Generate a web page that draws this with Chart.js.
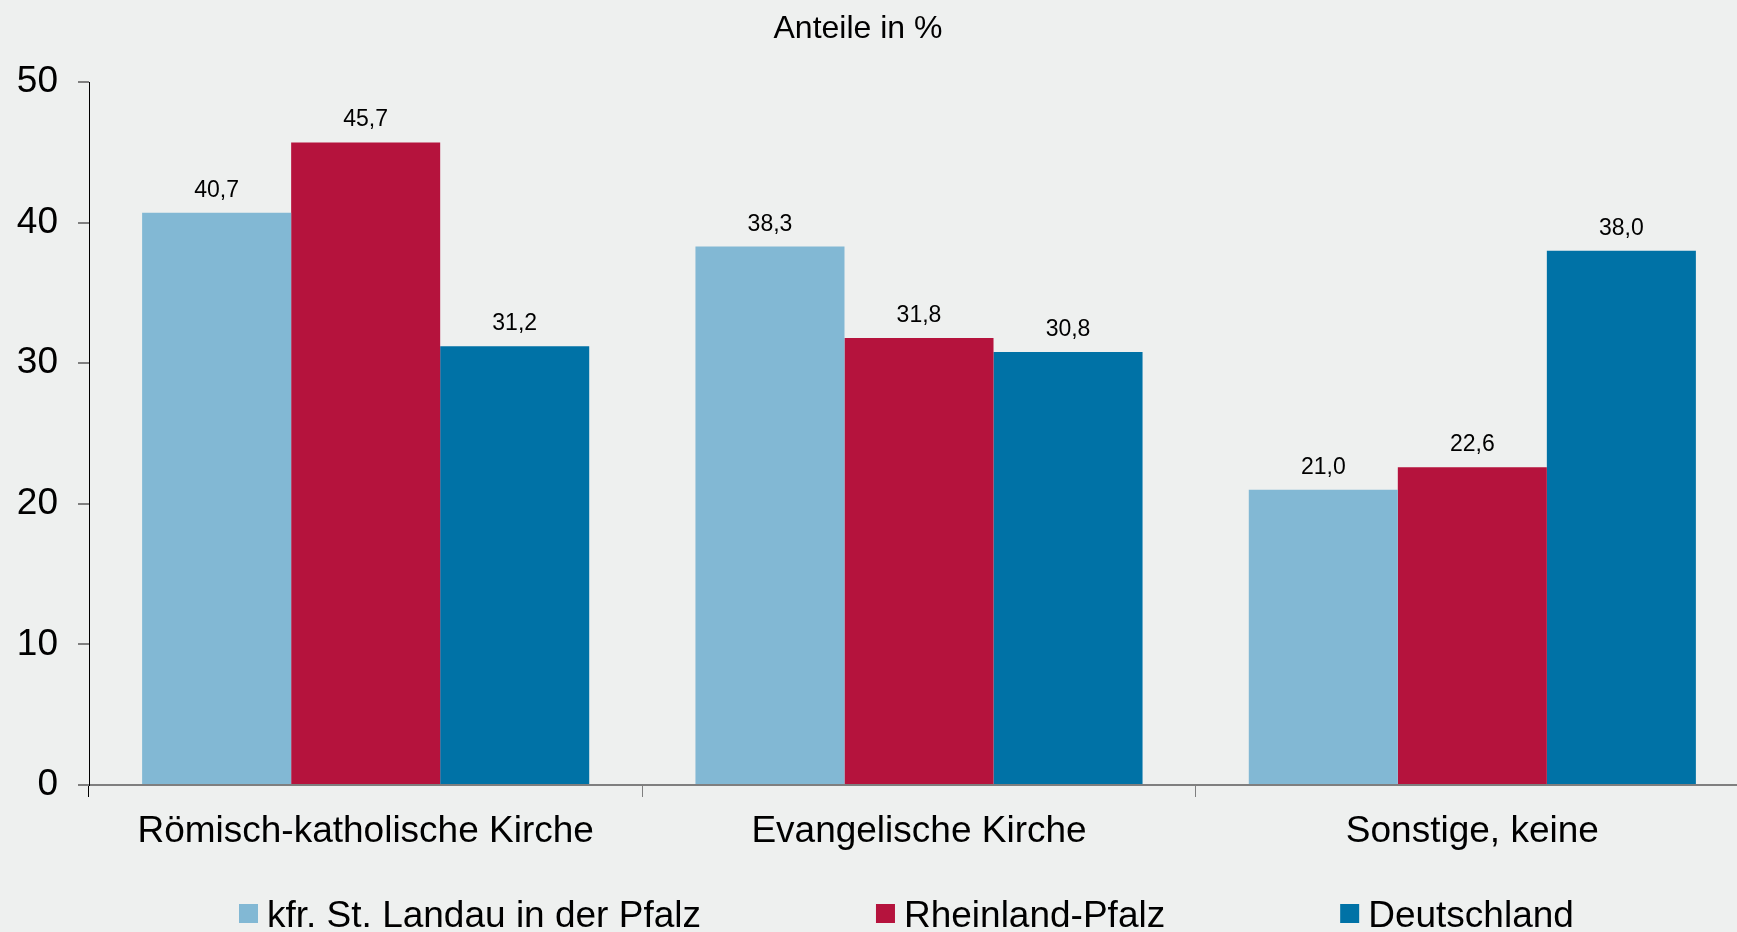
<!DOCTYPE html>
<html lang="de">
<head>
<meta charset="utf-8">
<title>Anteile in %</title>
<script src="https://cdn.jsdelivr.net/npm/chart.js@4.4.1/dist/chart.umd.min.js"></script>
<style>
  html, body { margin: 0; padding: 0; overflow: hidden; background: #eef0ef; }
  #chart { display: block; }
</style>
</head>
<body>
<canvas id="chart" width="1749" height="932"></canvas>
<script>
const categories = ['Römisch-katholische Kirche', 'Evangelische Kirche', 'Sonstige, keine'];
const seriesNames = ['kfr. St. Landau in der Pfalz', 'Rheinland-Pfalz', 'Deutschland'];
const landauValues = [40.7, 38.3, 21.0];
const rlpValues = [45.7, 31.8, 22.6];
const deValues = [31.2, 30.8, 38.0];
const yMin = 0;
const yMax = 50;
const yStep = 10;
const titleText = 'Anteile in %';

const colors = ['#82b8d4', '#b5133d', '#0072a6'];
const FONT = '"Liberation Sans", Arial, sans-serif';

// numbers above the bars
const valueLabels = {
  id: 'valueLabels',
  afterDatasetsDraw(chart) {
    const ctx = chart.ctx;
    ctx.save();
    ctx.font = '23px ' + FONT;
    ctx.fillStyle = '#000';
    ctx.textAlign = 'center';
    ctx.textBaseline = 'alphabetic';
    chart.data.datasets.forEach((ds, i) => {
      chart.getDatasetMeta(i).data.forEach((bar, j) => {
        ctx.fillText(ds.data[j].toFixed(1).replace('.', ','), bar.x, bar.y - 16);
      });
    });
    ctx.restore();
  }
};

// title on top, legend at the bottom
const titleAndLegend = {
  id: 'titleAndLegend',
  afterDraw(chart) {
    const ctx = chart.ctx;
    ctx.save();
    ctx.fillStyle = '#000';
    ctx.font = '32px ' + FONT;
    ctx.textAlign = 'center';
    ctx.textBaseline = 'alphabetic';
    ctx.fillText(titleText, 858, 38);

    ctx.font = '37px ' + FONT;
    ctx.textAlign = 'left';
    let x = 239;
    chart.data.datasets.forEach(ds => {
      ctx.fillStyle = ds.backgroundColor;
      ctx.fillRect(x, 904, 19, 19);
      ctx.fillStyle = '#000';
      ctx.fillText(ds.label, x + 28, 927);
      x += 28 + ctx.measureText(ds.label).width + 175;
    });
    ctx.restore();
  }
};

const seriesValues = [landauValues, rlpValues, deValues];

new Chart(document.getElementById('chart'), {
  type: 'bar',
  data: {
    labels: categories,
    datasets: seriesValues.map((vals, i) => ({
      label: seriesNames[i],
      data: vals,
      backgroundColor: colors[i],
      borderWidth: 0
    }))
  },
  options: {
    responsive: false,
    animation: false,
    layout: { padding: { top: 82, left: 0, right: 0, bottom: 0 } },
    plugins: {
      legend: { display: false },
      title: { display: false },
      tooltip: { enabled: false }
    },
    datasets: { bar: { categoryPercentage: 0.808, barPercentage: 1 } },
    scales: {
      x: {
        grid: {
          offset: true,
          drawOnChartArea: false,
          tickLength: 12,
          lineWidth: 1,
          color: c => c.index === 0 ? '#000' : '#7f7f7f'
        },
        border: { color: '#7f7f7f', width: 2, z: 1 },
        ticks: { color: '#000', font: { family: FONT, size: 37 }, padding: 13, maxRotation: 0 },
        afterFit: s => { s.height = 932 - 785; }
      },
      y: {
        min: yMin,
        max: yMax,
        ticks: { stepSize: yStep, color: '#000', font: { family: FONT, size: 37 }, padding: 20 },
        grid: { drawOnChartArea: false, tickLength: 11, color: '#7f7f7f', lineWidth: 2 },
        border: { color: '#000', width: 1, z: 1 },
        afterFit: s => { s.width = 89; }
      }
    }
  },
  plugins: [valueLabels, titleAndLegend]
});
</script>
</body>
</html>
